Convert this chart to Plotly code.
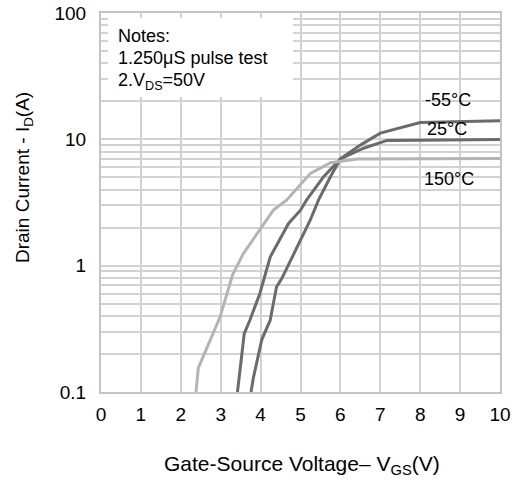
import plotly.graph_objects as go

# Data
vgs_m55 = [3.76, 3.82, 4.03, 4.24, 4.40, 4.53, 5.24, 5.45, 5.75, 6.0, 6.5, 7.0, 8.0, 10.0]
id_m55 = [0.1, 0.13, 0.26, 0.37, 0.68, 0.79, 2.28, 3.3, 5.06, 7.0, 9.0, 11.2, 13.6, 14.0]

vgs_25 = [3.42, 3.59, 3.73, 3.98, 4.24, 4.45, 4.70, 5.0, 5.15, 5.58, 6.0, 6.58, 7.17, 10.0]
id_25 = [0.1, 0.29, 0.37, 0.6, 1.17, 1.55, 2.16, 2.75, 3.3, 5.06, 7.0, 8.5, 9.8, 9.95]

vgs_150 = [2.38, 2.44, 2.98, 3.30, 3.57, 4.03, 4.32, 4.65, 5.25, 5.75, 6.42, 10.0]
id_150 = [0.1, 0.155, 0.39, 0.85, 1.25, 2.03, 2.75, 3.3, 5.38, 6.53, 7.0, 7.05]

x_ticks = [0, 1, 2, 3, 4, 5, 6, 7, 8, 9, 10]
y_ticks = [0.1, 1, 10, 100]
y_tick_text = ["0.1", "1", "10", "100"]
y_minor = [m * d for d in (0.1, 1, 10) for m in range(2, 10)]

series = [
    ("-55°C", vgs_m55, id_m55, "#6b6b6b"),
    ("25°C", vgs_25, id_25, "#6b6b6b"),
    ("150°C", vgs_150, id_150, "#b4b4b4"),
]

FONT = "Liberation Sans, Arial, sans-serif"
GRID = "#d2d2d2"

fig = go.Figure()
for name, x, y, c in series:
    fig.add_trace(go.Scatter(x=x, y=y, mode="lines", name=name,
                             line=dict(color=c, width=3), showlegend=False))

L, R, T, B = 101, 15, 13, 90
W, H = 515, 482
PW, PH = W - L - R, H - T - B


def px(xp):
    return (xp - L) / PW


def py(yp):
    return (H - B - yp) / PH


fig.update_layout(
    width=W, height=H,
    margin=dict(l=L, r=R, t=T, b=B, autoexpand=False),
    paper_bgcolor="white", plot_bgcolor="white",
    font=dict(family=FONT, size=18, color="black"),
    xaxis=dict(
        range=[0, 10], tickvals=x_ticks, showgrid=True, gridcolor=GRID, gridwidth=1.6,
        showline=True, linecolor="#c4c4c4", linewidth=2, mirror=True,
        zeroline=False, ticks="", ticklabelstandoff=4, automargin=False,
        tickfont=dict(size=19, family=FONT),
    ),
    yaxis=dict(
        type="log", range=[-1, 2], tickvals=y_ticks, ticktext=y_tick_text,
        showgrid=True, gridcolor=GRID, gridwidth=1.6,
        minor=dict(tickvals=y_minor, showgrid=True, gridcolor=GRID, gridwidth=1.6, ticks=""),
        showline=True, linecolor="#c4c4c4", linewidth=2, mirror=True,
        zeroline=False, ticks="", ticklabelstandoff=9, automargin=False,
        tickfont=dict(size=19, family=FONT),
    ),
)

# Notes box (white background over grid)
fig.add_shape(type="rect", xref="paper", yref="paper",
              x0=px(108), x1=px(293), y0=py(97), y1=py(18),
              fillcolor="white", line=dict(width=0), layer="above")

notes = [("Notes:", 35.5), ("1.250μS pulse test", 58.5), ("2.V<sub>DS</sub>=50V", 81.5)]
for txt, yy in notes:
    fig.add_annotation(text=txt, xref="paper", yref="paper", x=px(116), y=py(yy),
                       xanchor="left", yanchor="middle", showarrow=False,
                       font=dict(size=18, family=FONT, color="black"))

labels = [("-55°C", 448, 100), ("25°C", 447, 128.5), ("150°C", 449, 178.5)]
for txt, xx, yy in labels:
    fig.add_annotation(text=txt, xref="paper", yref="paper", x=px(xx), y=py(yy),
                       xanchor="center", yanchor="middle", showarrow=False,
                       font=dict(size=18, family=FONT, color="black"))

# Axis titles
fig.add_annotation(text="Gate-Source Voltage– V<sub>GS</sub>(V)", xref="paper", yref="paper",
                   x=px(302), y=py(465), xanchor="center", yanchor="middle",
                   showarrow=False, font=dict(size=21, family=FONT, color="black"))
fig.add_annotation(text="Drain Current - I<sub>D</sub>(A)", xref="paper", yref="paper",
                   x=px(24), y=py(178), xanchor="center", yanchor="middle", textangle=-90,
                   showarrow=False, font=dict(size=19, family=FONT, color="black"))

fig.write_html("out.html")
